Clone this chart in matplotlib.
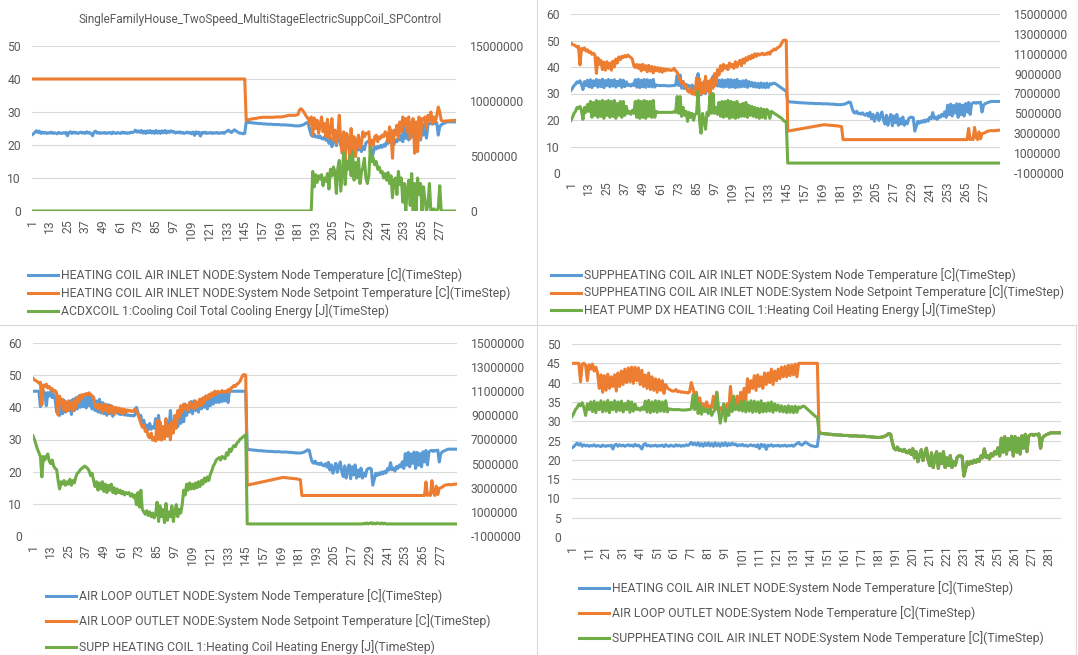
import numpy as np
import matplotlib
matplotlib.use("Agg")
import matplotlib.pyplot as plt
from matplotlib.lines import Line2D

plt.rcParams['font.family'] = ['Roboto', 'DejaVu Sans']

W, H = 1078, 655
steps = list(range(1, 289))

# ---- data (one value per timestep, 288 steps) ----
# heating coil air inlet temperature, steps 1-145
hc_temp_head = [
    23.1, 23.4, 23.9, 24.3, 23.8, 24.2, 23.5, 23.9, 23.6, 23.8, 23.5, 23.7,
    23.6, 23.9, 23.5, 23.7, 23.6, 23.4, 23.8, 23.6, 23.5, 23.7, 23.6, 23.8,
    22.8, 23.8, 24.0, 23.5, 23.9, 23.6, 23.8, 23.5, 23.7, 23.9, 23.6, 23.8,
    23.5, 24.0, 23.6, 23.8, 23.4, 22.8, 23.9, 24.2, 23.6, 23.8, 23.5, 23.7,
    23.6, 23.8, 23.5, 23.7, 23.6, 23.8, 23.4, 23.9, 23.6, 23.5, 23.8, 23.6,
    23.5, 23.9, 23.6, 23.8, 23.5, 23.7, 23.6, 23.9, 23.7, 24.0, 24.5, 23.9,
    24.3, 23.8, 24.4, 23.6, 24.2, 23.5, 24.3, 23.7, 24.4, 23.6, 24.2, 23.5,
    24.4, 23.6, 24.2, 23.5, 24.3, 23.7, 24.4, 23.6, 24.2, 23.8, 24.3, 23.9,
    24.1, 23.6, 23.9, 23.7, 24.0, 23.6, 23.8, 23.5, 23.7, 23.9, 23.6, 23.8,
    23.4, 23.9, 22.9, 24.0, 23.5, 23.9, 22.7, 23.8, 23.6, 23.9, 23.5, 23.7,
    23.6, 23.8, 23.5, 23.7, 23.6, 23.8, 23.5, 23.7, 23.6, 23.8, 23.5, 23.9,
    24.2, 24.5, 24.0, 23.8, 24.2, 24.6, 24.3, 24.0, 23.7, 23.6, 23.5, 23.4,
    23.5,
]
# suppheating coil air inlet temperature, steps 1-145
sh_temp_head = [
    31.2, 32.0, 33.0, 33.5, 34.4, 34.0, 34.8, 33.5, 31.5, 34.5, 33.0, 35.0,
    32.5, 35.2, 32.2, 34.8, 33.0, 35.3, 32.4, 35.0, 32.6, 35.4, 32.2, 34.9,
    33.0, 35.3, 32.5, 35.0, 32.8, 35.2, 32.4, 34.6, 33.0, 35.2, 32.3, 35.0,
    32.6, 34.4, 33.0, 33.4, 32.8, 33.6, 33.0, 35.2, 32.4, 35.4, 32.2, 35.0,
    32.5, 35.3, 32.3, 35.2, 32.6, 35.0, 32.5, 35.3, 32.4, 33.2, 33.1, 33.0,
    33.0, 33.0, 33.0, 33.0, 32.9, 32.9, 32.9, 32.9, 33.0, 33.0, 33.2, 36.8,
    33.0, 37.0, 32.0, 34.5, 31.8, 33.5, 32.5, 33.0, 32.0, 33.2, 31.5, 32.5,
    33.0, 37.5, 33.0, 29.5, 32.0, 34.5, 30.0, 33.0, 31.5, 34.8, 32.5, 36.5,
    33.0, 34.0, 32.8, 35.0, 32.6, 35.2, 32.4, 35.0, 32.6, 35.3, 32.3, 35.2,
    32.5, 35.0, 32.2, 35.3, 32.4, 34.6, 32.5, 34.8, 32.6, 35.0, 32.3, 34.5,
    32.8, 34.2, 32.5, 34.0, 32.4, 33.8, 32.2, 34.0, 32.3, 33.8, 32.2, 33.9,
    32.3, 33.7, 33.4, 33.8, 33.9, 33.6, 33.2, 32.8, 32.4, 32.0, 31.6, 31.2,
    31.0,
]
# air loop outlet temperature, steps 1-145
al_temp_head = [
    45.0, 45.0, 45.0, 45.0, 45.0, 40.2, 44.8, 45.0, 44.5, 40.5, 44.6, 43.5,
    44.8, 43.0, 44.0, 42.5, 38.5, 42.0, 37.5, 41.8, 38.0, 42.2, 38.5, 41.5,
    39.0, 42.0, 37.8, 42.5, 39.0, 43.0, 39.5, 43.5, 40.0, 43.8, 40.2, 44.0,
    39.8, 44.0, 40.5, 43.8, 39.5, 43.2, 39.0, 42.0, 38.5, 42.5, 38.2, 41.5,
    38.0, 41.0, 37.5, 40.8, 38.0, 40.5, 37.2, 39.5, 38.6, 38.3, 38.0, 37.8,
    37.8, 38.2, 37.6, 37.8, 37.5, 37.6, 37.4, 37.5, 37.3, 37.6, 40.0, 38.5,
    36.5, 37.5, 34.5, 36.0, 33.5, 34.5, 33.0, 35.0, 33.2, 34.0, 33.5, 36.5,
    33.0, 37.5, 32.5, 33.5, 33.0, 34.0, 32.5, 34.5, 33.0, 39.0, 34.0, 35.5,
    33.5, 36.5, 34.0, 37.5, 35.0, 38.5, 35.5, 41.0, 37.5, 40.5, 38.5, 41.8,
    38.0, 42.0, 39.0, 41.5, 38.5, 42.5, 39.5, 42.5, 40.0, 43.5, 39.5, 43.0,
    40.5, 43.5, 41.0, 44.0, 41.5, 44.2, 41.5, 44.5, 41.8, 44.6, 42.0, 44.8,
    41.5, 45.0, 45.0, 45.0, 45.0, 45.0, 45.0, 45.0, 45.0, 45.0, 45.0, 45.0,
    45.0,
]
# node temperatures after the switch, steps 146-288 (all three nodes agree)
temp_tail = [
    26.9, 26.9, 26.8, 26.8, 26.7, 26.7, 26.6, 26.6, 26.5, 26.5, 26.5, 26.4,
    26.4, 26.4, 26.3, 26.3, 26.3, 26.3, 26.2, 26.2, 26.2, 26.2, 26.2, 26.1,
    26.1, 26.1, 26.1, 26.1, 26.0, 26.0, 26.0, 25.9, 25.9, 25.8, 25.8, 25.8,
    25.8, 25.9, 26.0, 26.2, 26.5, 26.8, 26.6, 24.5, 23.0, 22.6, 23.3, 22.4,
    22.6, 22.2, 22.7, 22.0, 21.8, 22.5, 21.4, 22.9, 20.5, 22.1, 19.5, 21.2,
    22.6, 19.8, 21.6, 23.0, 20.0, 18.5, 21.8, 18.0, 20.6, 22.1, 17.8, 21.5,
    19.0, 22.1, 18.0, 20.5, 18.5, 21.1, 18.0, 19.6, 18.6, 20.6, 21.0, 21.1,
    20.8, 15.8, 17.6, 19.5, 18.8, 19.6, 19.1, 19.9, 19.3, 20.1, 19.6, 21.0,
    20.5, 22.8, 20.6, 21.1, 20.2, 21.6, 21.0, 22.1, 21.5, 23.1, 21.0, 25.6,
    22.0, 26.0, 21.5, 25.5, 22.6, 26.1, 21.0, 26.0, 22.0, 25.6, 21.5, 26.2,
    23.0, 26.6, 22.1, 26.1, 26.5, 26.6, 26.3, 26.6, 26.5, 26.7, 23.0, 25.6,
    26.1, 26.4, 26.6, 26.8, 27.0, 27.0, 27.0, 27.0, 27.0, 27.0, 27.0,
]
# heating coil inlet setpoint
hc_setpoint = [40.0] * 145 + [
    27.5, 27.6, 27.7, 27.8, 27.9, 28.0, 28.0, 28.1, 28.2, 28.3, 28.3, 28.4,
    28.4, 28.4, 28.4, 28.4, 28.4, 28.4, 28.4, 28.4, 28.5, 28.5, 28.5, 28.5,
    28.5, 28.6, 28.7, 28.8, 28.9, 29.0, 29.0, 29.0, 29.0, 29.0, 29.1, 29.2,
    30.5, 31.0, 30.6, 30.0, 29.2, 28.5, 28.0, 26.5, 28.5, 23.0, 28.2, 25.0,
    27.5, 23.5, 26.0, 28.5, 24.0, 26.5, 22.5, 27.8, 22.0, 24.5, 28.0, 21.5,
    24.5, 20.5, 23.0, 29.0, 21.0, 17.5, 24.0, 15.5, 23.5, 22.0, 17.0, 25.0,
    18.5, 22.5, 16.5, 21.0, 23.0, 19.0, 20.5, 24.0, 22.5, 23.5, 23.5, 24.0,
    18.0, 21.5, 20.0, 22.5, 23.0, 21.0, 22.5, 22.0, 23.0, 22.5, 24.0, 23.5,
    21.0, 25.5, 24.0, 16.0, 24.5, 23.0, 26.0, 22.0, 27.0, 24.0, 28.5, 26.0,
    28.0, 24.0, 28.5, 22.0, 26.5, 28.0, 17.5, 27.0, 18.0, 28.5, 22.0, 28.0,
    27.5, 28.5, 25.0, 29.0, 27.5, 30.0, 26.5, 28.5, 27.0, 29.0, 31.5, 30.0,
    27.5, 27.2, 27.2, 27.3, 27.3, 27.3, 27.4, 27.4, 27.4, 27.5, 27.5,
]
# suppheating coil inlet / air loop outlet setpoint (identical in both charts)
supp_setpoint = [
    49.0, 48.5, 48.3, 48.0, 47.5, 47.8, 40.8, 47.0, 46.5, 47.2, 46.0, 46.5,
    45.5, 45.8, 44.8, 45.2, 44.5, 37.6, 43.5, 41.0, 42.5, 39.0, 41.8, 38.8,
    42.0, 39.5, 41.5, 38.8, 42.2, 40.0, 43.0, 41.5, 43.8, 42.8, 44.0, 43.6,
    44.3, 43.8, 44.5, 44.0, 43.6, 43.0, 40.5, 39.8, 41.0, 39.5, 40.8, 38.5,
    41.0, 39.0, 40.5, 38.2, 40.6, 38.5, 40.2, 37.8, 40.0, 38.6, 39.8, 38.3,
    39.6, 38.0, 39.4, 38.5, 39.2, 38.8, 39.0, 38.7, 38.9, 39.5, 38.6, 38.0,
    36.5, 35.0, 33.8, 34.5, 32.5, 33.0, 31.0, 30.5, 32.0, 29.8, 30.5, 29.5,
    36.0, 30.0, 35.5, 29.8, 34.0, 30.2, 36.5, 31.0, 34.5, 29.9, 35.5, 32.0,
    37.5, 33.5, 39.0, 37.0, 40.5, 38.5, 41.0, 39.5, 40.5, 39.0, 41.5, 40.0,
    41.0, 39.5, 42.0, 40.0, 41.5, 42.5, 40.5, 43.0, 41.5, 43.5, 42.5, 44.0,
    43.0, 44.5, 43.5, 45.0, 44.0, 45.0, 44.5, 44.8, 45.2, 44.6, 45.0, 44.8,
    45.5, 44.8, 46.0, 46.2, 46.8, 46.5, 47.2, 47.5, 48.0, 49.0, 50.0, 50.2,
    50.0,
    15.8, 15.9, 16.0, 16.1, 16.2, 16.3, 16.4, 16.5, 16.6, 16.7, 16.8, 16.9,
    17.0, 17.1, 17.2, 17.3, 17.4, 17.5, 17.6, 17.7, 17.8, 17.9, 18.0, 18.1,
    18.2, 18.2, 18.1, 18.1, 18.0, 18.0, 17.9, 17.9, 17.8, 17.8, 17.7, 17.6,
    17.5,
] + [12.6] * 83 + [
    12.6, 16.8, 12.6, 13.0, 12.6, 17.2, 13.5, 12.6, 15.5, 12.9, 14.8, 15.0,
    15.2, 15.6, 15.8, 15.9, 16.0, 16.0, 15.9, 16.0, 16.1, 16.1, 16.2,
]
# ACDXCOIL 1 total cooling energy [J]
cooling_energy = [0.0] * 190 + [
    3.6e6, 2.2e6, 3.3e6, 2.6e6, 3.2e6, 2.9e6, 3.3e6, 2.3e6, 3.0e6, 2.7e6, 3.4e6, 2.0e6,
    3.8e6, 3.2e6, 4.0e6, 3.6e6, 1.6e6, 3.9e6, 4.6e6, 1.8e6, 3.5e6, 5.3e6, 2.4e6, 4.5e6,
    3.8e6, 5.0e6, 3.2e6, 5.4e6, 2.8e6, 4.4e6, 3.0e6, 4.8e6, 2.5e6, 3.5e6, 4.0e6, 4.8e6,
    3.0e6, 2.5e6, 3.2e6, 5.8e6, 4.5e6, 4.8e6, 4.2e6, 4.5e6, 3.8e6, 4.0e6, 3.5e6, 3.6e6,
    3.0e6, 3.4e6, 2.8e6, 3.5e6, 2.5e6, 3.2e6, 1.2e6, 2.8e6, 3.0e6, 1.5e6, 3.6e6, 2.4e6,
    3.0e6, 0.8e6, 2.5e6, 0.0, 2.0e6, 2.8e6, 0.5e6, 3.4e6, 0.0, 2.5e6, 0.0, 3.0e6,
    1.5e6, 2.5e6, 0.0, 2.2e6, 1.0e6, 0.0, 0.5e6, 2.5e6, 0.0, 0.0, 0.2e6, 0.0,
    0.0, 0.3e6, 2.3e6, 0.0, 0.0, 0.0, 0.0, 0.0, 0.0, 0.0, 0.0, 0.0,
    0.0, 0.0,
]
# HEAT PUMP DX HEATING COIL 1 heating energy [J]
hp_energy = [
    4.3e6, 4.6e6, 5.0e6, 5.2e6, 5.6e6, 5.5e6, 5.7e6, 5.3e6, 4.4e6, 5.6e6, 5.1e6, 5.9e6,
    5.2e6, 6.2e6, 4.6e6, 6.1e6, 4.8e6, 6.3e6, 4.6e6, 6.2e6, 4.7e6, 6.3e6, 4.5e6, 6.2e6,
    4.8e6, 6.3e6, 4.6e6, 6.2e6, 4.7e6, 6.3e6, 4.5e6, 6.0e6, 4.8e6, 6.2e6, 4.6e6, 6.2e6,
    4.8e6, 5.7e6, 5.0e6, 5.2e6, 4.9e6, 5.3e6, 5.0e6, 6.2e6, 4.6e6, 6.3e6, 4.5e6, 6.2e6,
    4.6e6, 6.3e6, 4.5e6, 6.2e6, 4.7e6, 6.2e6, 4.6e6, 6.3e6, 4.6e6, 5.2e6, 5.1e6, 5.1e6,
    5.1e6, 5.1e6, 5.1e6, 5.1e6, 5.1e6, 5.1e6, 5.1e6, 5.1e6, 5.1e6, 5.2e6, 5.1e6, 6.7e6,
    5.0e6, 6.7e6, 4.7e6, 5.6e6, 4.8e6, 5.2e6, 4.2e6, 5.1e6, 4.6e6, 5.0e6, 4.3e6, 4.9e6,
    5.0e6, 7.2e6, 4.2e6, 3.0e6, 5.0e6, 4.3e6, 3.4e6, 5.1e6, 4.8e6, 6.8e6, 5.0e6, 7.0e6,
    5.0e6, 5.6e6, 4.9e6, 6.1e6, 4.7e6, 6.2e6, 4.6e6, 6.2e6, 4.7e6, 6.3e6, 4.5e6, 6.2e6,
    4.6e6, 6.1e6, 4.5e6, 6.2e6, 4.6e6, 5.9e6, 4.7e6, 6.0e6, 4.7e6, 6.1e6, 4.6e6, 5.8e6,
    4.8e6, 5.7e6, 4.7e6, 5.6e6, 4.6e6, 5.5e6, 4.5e6, 5.5e6, 4.6e6, 5.4e6, 4.5e6, 5.4e6,
    5.2e6, 4.5e6, 5.2e6, 5.1e6, 5.0e6, 4.9e6, 4.8e6, 4.7e6, 4.6e6, 4.5e6, 4.3e6, 4.2e6,
    4.2e6,
] + [0.0] * 143
# SUPP HEATING COIL 1 heating energy [J]
supp_energy = [
    7.3e6, 7.0e6, 6.6e6, 6.2e6, 5.9e6, 5.6e6, 3.9e6, 5.6e6, 5.3e6, 5.6e6, 5.8e6, 5.2e6,
    5.0e6, 5.3e6, 4.8e6, 4.6e6, 4.5e6, 3.6e6, 2.9e6, 3.5e6, 3.3e6, 3.6e6, 3.2e6, 3.5e6,
    3.3e6, 3.7e6, 3.2e6, 3.6e6, 3.4e6, 3.9e6, 4.2e6, 4.3e6, 4.5e6, 4.6e6, 4.7e6, 4.8e6,
    4.7e6, 4.6e6, 4.4e6, 4.0e6, 4.2e6, 3.6e6, 3.1e6, 3.5e6, 2.8e6, 3.4e6, 2.9e6, 3.5e6,
    2.7e6, 3.3e6, 2.6e6, 3.2e6, 2.8e6, 3.3e6, 2.6e6, 3.0e6, 2.5e6, 2.9e6, 2.6e6, 2.8e6,
    2.5e6, 2.7e6, 2.4e6, 2.6e6, 2.5e6, 2.6e6, 2.3e6, 2.5e6, 2.2e6, 2.4e6, 1.6e6, 2.6e6,
    1.4e6, 2.8e6, 1.2e6, 1.0e6, 0.8e6, 1.1e6, 0.7e6, 1.0e6, 0.6e6, 0.9e6, 0.5e6, 0.8e6,
    1.8e6, 0.2e6, 1.5e6, 0.6e6, 1.2e6, 0.1e6, 1.7e6, 0.3e6, 1.0e6, 0.6e6, 1.5e6, 0.2e6,
    1.0e6, 1.6e6, 0.6e6, 1.2e6, 0.9e6, 1.6e6, 2.8e6, 2.4e6, 3.3e6, 2.8e6, 3.4e6, 2.9e6,
    3.3e6, 2.9e6, 3.4e6, 3.0e6, 3.5e6, 3.1e6, 3.6e6, 3.3e6, 3.8e6, 3.5e6, 3.9e6, 3.6e6,
    4.1e6, 4.4e6, 4.8e6, 5.0e6, 5.3e6, 5.4e6, 5.5e6, 5.3e6, 5.6e6, 5.5e6, 5.4e6, 5.9e6,
    5.7e6, 6.2e6, 6.0e6, 6.3e6, 6.5e6, 6.4e6, 6.7e6, 6.8e6, 7.0e6, 7.1e6, 7.2e6, 7.3e6,
    7.4e6,
] + [0.0] * 79 + [
    5e4, 0.0, 8e4, 0.0, 6e4, 1e5, 0.0, 7e4, 0.0, 9e4, 5e4, 0.0, 8e4, 0.0, 6e4, 0.0,
] + [0.0] * 48

hc_temp = hc_temp_head + temp_tail
sh_temp = sh_temp_head + temp_tail
al_temp = al_temp_head + temp_tail
for s in (hc_temp, sh_temp, al_temp, hc_setpoint, supp_setpoint,
          cooling_energy, hp_energy, supp_energy):
    assert len(s) == 288, len(s)

title = "SingleFamilyHouse_TwoSpeed_MultiStageElectricSuppCoil_SPControl"

BLUE, ORANGE, GREEN = '#5B9BD5', '#ED7D31', '#70AD47'
GRID, TXT = '#D9D9D9', '#595959'
FS = 8.7      # tick labels
FSL = 8.8     # legend text
LW = 2.2

fig = plt.figure(figsize=(W / 100, H / 100), dpi=100)


def fx(x):
    return x / W


def fy(y):
    return 1 - y / H


def make_panel(x0, y0, x1, y1, ymax, ystep, xstep):
    ax = fig.add_axes([fx(x0), fy(y1), (x1 - x0) / W, (y1 - y0) / H])
    ax.set_xlim(1, 288)
    ax.set_ylim(0, ymax)
    ax.set_yticks(np.arange(0, ymax + 0.1, ystep))
    ax.set_xticks(range(1, 289, xstep))
    ax.grid(axis='y', color=GRID, lw=0.8)
    ax.set_axisbelow(True)
    for sp in ax.spines.values():
        sp.set_visible(False)
    ax.tick_params(axis='y', length=0, pad=8, labelsize=FS, labelcolor=TXT)
    ax.tick_params(axis='x', length=0, pad=6, labelsize=FS, labelcolor=TXT,
                   labelrotation=90)
    return ax


def right_axis(ax, lo, hi, ticks):
    ax2 = ax.twinx()
    ax2.set_ylim(lo, hi)
    ax2.set_yticks(ticks)
    ax2.set_yticklabels([str(int(t)) for t in ticks])
    for sp in ax2.spines.values():
        sp.set_visible(False)
    ax2.tick_params(axis='y', length=0, pad=10, labelsize=FS, labelcolor=TXT)
    return ax2


def legend(entries, x0, x1, ys):
    for (label, color), y in zip(entries, ys):
        fig.add_artist(Line2D([fx(x0), fx(x1)], [fy(y), fy(y)], color=color,
                              lw=LW, transform=fig.transFigure))
        fig.text(fx(x1 + 3), fy(y), label, fontsize=FSL, color=TXT,
                 ha='left', va='center')


def line(ax, y, color):
    ax.plot(steps, y, color=color, lw=LW, solid_joinstyle='round')


# panel 1
ax = make_panel(32, 46, 456, 211, 50, 10, 12)
line(ax, hc_temp, BLUE)
line(ax, hc_setpoint, ORANGE)
ax2 = right_axis(ax, 0, 15e6, [0, 5e6, 10e6, 15e6])
line(ax2, cooling_energy, GREEN)
fig.text(fx(260), fy(20), title, fontsize=8.5, color=TXT, ha='center', va='center')
legend([("HEATING COIL AIR INLET NODE:System Node Temperature [C](TimeStep)", BLUE),
        ("HEATING COIL AIR INLET NODE:System Node Setpoint Temperature [C](TimeStep)", ORANGE),
        ("ACDXCOIL 1:Cooling Coil Total Cooling Energy [J](TimeStep)", GREEN)],
       28, 58, [275, 293, 311])

# panel 2
ax = make_panel(571, 14, 1000, 173, 60, 10, 12)
line(ax, sh_temp, BLUE)
line(ax, supp_setpoint, ORANGE)
ax2 = right_axis(ax, -1e6, 15e6, list(range(-1000000, 15000001, 2000000)))
line(ax2, hp_energy, GREEN)
legend([("SUPPHEATING COIL AIR INLET NODE:System Node Temperature [C](TimeStep)", BLUE),
        ("SUPPHEATING COIL AIR INLET NODE:System Node Setpoint Temperature [C](TimeStep)", ORANGE),
        ("HEAT PUMP DX HEATING COIL 1:Heating Coil Heating Energy [J](TimeStep)", GREEN)],
       551, 581, [275, 292.5, 310])

# panel 3
ax = make_panel(33, 343, 457, 536, 60, 10, 12)
line(ax, al_temp, BLUE)
line(ax, supp_setpoint, ORANGE)
ax2 = right_axis(ax, -1e6, 15e6, list(range(-1000000, 15000001, 2000000)))
line(ax2, supp_energy, GREEN)
legend([("AIR LOOP OUTLET NODE:System Node Temperature [C](TimeStep)", BLUE),
        ("AIR LOOP OUTLET NODE:System Node Setpoint Temperature [C](TimeStep)", ORANGE),
        ("SUPP HEATING COIL 1:Heating Coil Heating Energy [J](TimeStep)", GREEN)],
       46, 76, [596, 621, 647])

# panel 4
ax = make_panel(572, 344, 1061, 537, 50, 5, 10)
line(ax, hc_temp, BLUE)
line(ax, al_temp, ORANGE)
line(ax, sh_temp, GREEN)
legend([("HEATING COIL AIR INLET NODE:System Node Temperature [C](TimeStep)", BLUE),
        ("AIR LOOP OUTLET NODE:System Node Temperature [C](TimeStep)", ORANGE),
        ("SUPPHEATING COIL AIR INLET NODE:System Node Temperature [C](TimeStep)", GREEN)],
       579, 609, [588, 613, 638])

# chart-object borders
fig.add_artist(Line2D([0, 1], [fy(325), fy(325)], color=GRID, lw=0.8,
                      transform=fig.transFigure))
fig.add_artist(Line2D([fx(537), fx(537)], [0, 1], color=GRID, lw=0.8,
                      transform=fig.transFigure))
fig.add_artist(Line2D([fx(1076), fx(1076)], [0, fy(325)], color=GRID, lw=0.8,
                      transform=fig.transFigure))

fig.savefig("out.png", dpi=100, facecolor='white')
